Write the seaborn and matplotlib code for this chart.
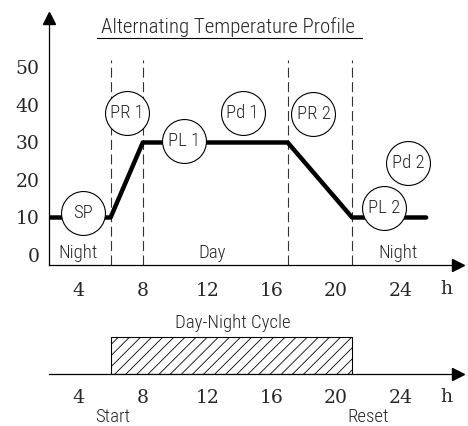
import numpy as np
import matplotlib
matplotlib.use("Agg")
import matplotlib.pyplot as plt
import seaborn as sns

# ==============================
# Data
# ==============================
hours = [2.2, 6, 8, 17, 21, 25.6]
temps = [10, 10, 30, 30, 10, 10]
phase_lines = [6, 8, 17, 21]

phase_names = ['SP', 'PR 1', 'PL 1', 'Pd 1', 'PR 2', 'PL 2', 'Pd 2']
phase_x = [4.3, 7.0, 10.55, 14.2, 18.6, 23.0, 24.5]
phase_y = [11.2, 37.9, 30.4, 37.9, 37.6, 12.5, 24.5]

period_names = ['Night', 'Day', 'Night']
period_x = [3.98, 12.3, 23.85]

cycle_start = 6
cycle_end = 21

xticks = [4, 8, 12, 16, 20, 24]
yticks = [0, 10, 20, 30, 40, 50]

# ==============================
# Style
# ==============================
sns.set_style('white')
plt.rcParams['hatch.linewidth'] = 0.6
label_font = dict(family=['Liberation Sans Narrow', 'Roboto Condensed', 'DejaVu Sans'],
                  fontsize=13.5, fontweight='light')
num_font = dict(family='DejaVu Serif', fontsize=13.5)

fig = plt.figure(figsize=(4.68, 4.26), dpi=100)
ax = fig.add_axes([49 / 468, 1 - 265 / 426, 409 / 468, 247 / 426])
ax2 = fig.add_axes([49 / 468, 1 - 374 / 426, 409 / 468, 48 / 426])

xlim = (35 / 16.1, 444 / 16.1)

# ==============================
# Temperature profile
# ==============================
ax.set_xlim(*xlim)
ax.set_ylim(-2.67, 63.2)

for x in phase_lines:
    ax.axvline(x, ymin=0, ymax=0.83, color='#333333', lw=0.8, ls=(0, (9, 4)), zorder=1)

sns.lineplot(x=hours, y=temps, ax=ax, color='black', lw=3.2, zorder=2)
sns.scatterplot(x=phase_x, y=phase_y, ax=ax, s=1000, color='white',
                edgecolor='black', linewidth=0.8, zorder=3)
for name, x, y in zip(phase_names, phase_x, phase_y):
    ax.text(x, y, name, ha='center', va='center', zorder=4, **label_font)

for name, x in zip(period_names, period_x):
    ax.text(x, 0.5, name, ha='center', va='center', **label_font)

ax.text(13.3, 60.8, 'Alternating Temperature Profile', ha='center', va='center',
        family=label_font['family'], fontweight='light', fontsize=15)
ax.plot([5.16, 21.6], [57.9, 57.9], color='black', lw=0.8)

ax.set_xticks(xticks)
ax.set_xticklabels([str(t) for t in xticks], **num_font)
ax.set_yticks(yticks)
ax.set_yticklabels([str(t) for t in yticks], **num_font)
ax.tick_params(axis='x', length=0, pad=12)
ax.tick_params(axis='y', length=0, pad=7)
ax.text(26.85, -0.098, 'h', transform=ax.get_xaxis_transform(), ha='center', va='center', **num_font)

sns.despine(ax=ax)
for s in ['left', 'bottom']:
    ax.spines[s].set_linewidth(0.9)
    ax.spines[s].set_color('black')
ax.plot(1, 0, '>k', ms=8, transform=ax.transAxes, clip_on=False)
ax.plot(0, 1, '^k', ms=8, transform=ax.transAxes, clip_on=False)

# ==============================
# Day-night cycle
# ==============================
ax2.set_xlim(*xlim)
ax2.set_ylim(0, 1)
ax2.barh(0, cycle_end - cycle_start, left=cycle_start, height=0.77, align='edge',
         fill=False, hatch='///', edgecolor='black', lw=0.8)
ax2.text((cycle_start + cycle_end) / 2 + 0.1, 1.06, 'Day-Night Cycle', ha='center', va='center',
         transform=ax2.get_xaxis_transform(), **label_font)
ax2.text(cycle_start + 0.1, -0.9, 'Start', ha='center', va='center',
         transform=ax2.get_xaxis_transform(), **label_font)
ax2.text(cycle_end + 1.0, -0.9, 'Reset', ha='center', va='center',
         transform=ax2.get_xaxis_transform(), **label_font)

ax2.set_xticks(xticks)
ax2.set_xticklabels([str(t) for t in xticks], **num_font)
ax2.set_yticks([])
ax2.tick_params(axis='x', length=0, pad=11)
ax2.text(26.85, -0.48, 'h', transform=ax2.get_xaxis_transform(), ha='center', va='center', **num_font)

sns.despine(ax=ax2, left=True)
ax2.spines['bottom'].set_linewidth(0.9)
ax2.spines['bottom'].set_color('black')
ax2.plot(1, 0, '>k', ms=8, transform=ax2.transAxes, clip_on=False)

fig.savefig('out.png', dpi=100)
